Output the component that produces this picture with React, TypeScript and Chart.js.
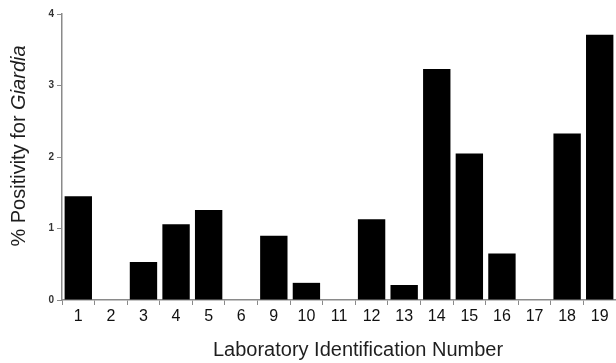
import React, { useEffect, useRef } from "react";
import { Chart, registerables } from "chart.js";

Chart.register(...registerables);

const labIds = ["1", "2", "3", "4", "5", "6", "9", "10", "11", "12", "13", "14", "15", "16", "17", "18", "19"];
const positivity = [1.45, 0, 0.53, 1.06, 1.26, 0, 0.9, 0.24, 0, 1.13, 0.21, 3.23, 2.05, 0.65, 0, 2.33, 3.71];
const yTicks = [0, 1, 2, 3, 4];
const yTitlePlain = "% Positivity for ";
const yTitleItalic = "Giardia";
const xTitle = "Laboratory Identification Number";

const titlesPlugin = {
  id: "titles",
  afterDraw(chart: any) {
    const ctx = chart.ctx;
    ctx.save();
    ctx.fillStyle = "#1e1e1e";
    ctx.textBaseline = "middle";
    // x title
    ctx.font = "20px 'Liberation Sans', Arial, sans-serif";
    ctx.textAlign = "center";
    ctx.fillText(xTitle, 358, 350);
    // y title mixed style
    const plainFont = "20px 'Liberation Sans', Arial, sans-serif";
    const italicFont = "italic 20px 'Liberation Sans', Arial, sans-serif";
    ctx.font = plainFont;
    const w1 = ctx.measureText(yTitlePlain).width;
    ctx.font = italicFont;
    const w2 = ctx.measureText(yTitleItalic).width;
    const total = w1 + w2;
    ctx.translate(19, 146);
    ctx.rotate(-Math.PI / 2);
    ctx.textAlign = "left";
    ctx.font = plainFont;
    ctx.fillText(yTitlePlain, -total / 2, 0);
    ctx.font = italicFont;
    ctx.fillText(yTitleItalic, -total / 2 + w1, 0);
    ctx.restore();
  },
};

export default function App() {
  const ref = useRef<HTMLCanvasElement | null>(null);
  useEffect(() => {
    document.body.style.margin = "0";
    const canvas = ref.current;
    if (!canvas) return;
    const chart = new Chart(canvas, {
      type: "bar",
      data: {
        labels: labIds,
        datasets: [
          {
            data: positivity,
            backgroundColor: "#000000",
            borderWidth: 0,
            barPercentage: 0.84,
            categoryPercentage: 1,
          },
        ],
      },
      options: {
        animation: false,
        responsive: false,
        maintainAspectRatio: false,
        layout: { padding: { top: 14, right: 0, left: 0, bottom: 0 } },
        plugins: { legend: { display: false }, tooltip: { enabled: false } },
        scales: {
          x: {
            offset: true,
            grid: {
              offset: true,
              drawOnChartArea: false,
              drawTicks: true,
              tickLength: 5,
              color: "#8a8a8a",
            },
            border: { color: "#8a8a8a", width: 1.5 },
            ticks: {
              color: "#111111",
              font: { family: "'Liberation Sans', Arial, sans-serif", size: 16 },
              padding: 2,
              maxRotation: 0,
              autoSkip: false,
            },
            afterFit(scale: any) {
              scale.height = 63;
            },
          },
          y: {
            min: 0,
            max: 4,
            afterBuildTicks(scale: any) {
              scale.ticks = yTicks.map((v) => ({ value: v }));
            },
            grid: {
              drawOnChartArea: false,
              drawTicks: true,
              tickLength: 5,
              color: "#8a8a8a",
            },
            border: { color: "#8a8a8a", width: 1.5 },
            ticks: {
              color: "#333333",
              font: { family: "'Liberation Sans', Arial, sans-serif", size: 10, weight: "bold" },
              padding: 3,
            },
            afterFit(scale: any) {
              scale.width = 62;
            },
          },
        },
      },
      plugins: [titlesPlugin],
    });
    return () => chart.destroy();
  }, []);
  return (
    <div style={{ position: "relative", width: 616, height: 363 }}>
      <canvas ref={ref} width={616} height={363} style={{ display: "block", width: 616, height: 363 }} />
    </div>
  );
}
